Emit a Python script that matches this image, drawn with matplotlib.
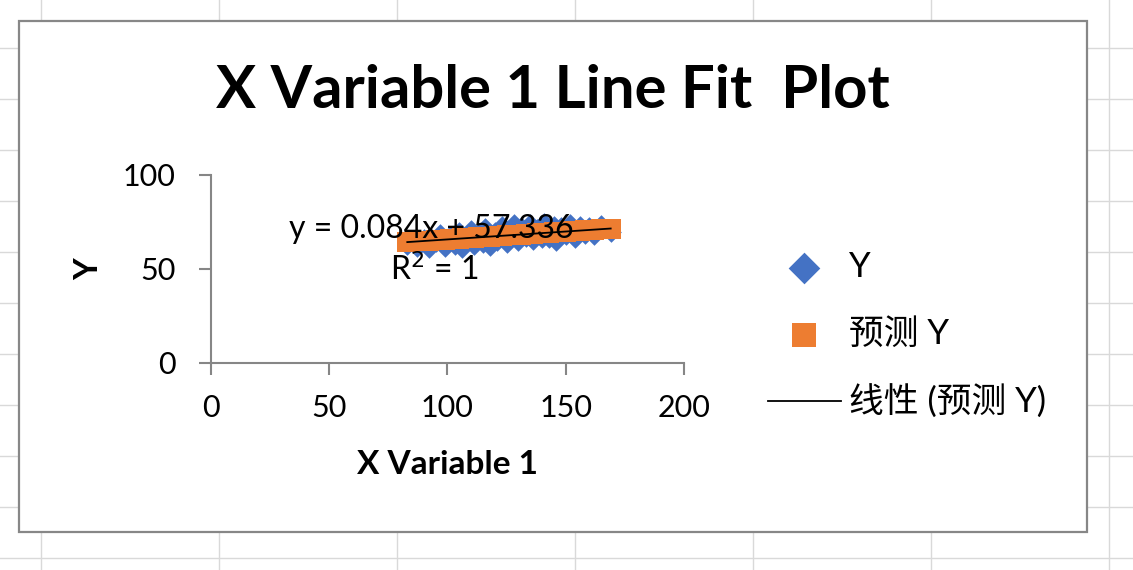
"""
X Variable 1 Line Fit Plot (Excel 回归输出图复刻)
"""
import matplotlib
matplotlib.use('Agg')
import matplotlib.pyplot as plt
from matplotlib.patches import Rectangle

plt.rcParams['font.family'] = ['Lato', 'Noto Sans CJK SC', 'DejaVu Sans']

# 数据
x_vals = [83, 87, 90, 92, 95, 97, 99, 101, 103, 105, 106, 108, 110, 111, 113,
          115, 116, 118, 120, 121, 123, 125, 126, 128, 130, 131, 133, 135, 136,
          138, 140, 141, 143, 145, 146, 148, 150, 152, 154, 156, 158, 160, 162,
          165, 169]
y_vals = [62.9, 61.8, 66.1, 61.1, 64.1, 68.6, 61.7, 67.8, 62.9, 69.7, 61.3, 65.0,
          70.5, 62.9, 68.7, 64.0, 71.7, 62.5, 69.6, 65.0, 72.7, 63.8, 70.8, 74.0,
          64.8, 72.4, 66.9, 74.0, 65.3, 71.5, 66.6, 74.6, 66.4, 73.1, 65.0, 72.4,
          67.9, 74.1, 66.7, 72.9, 68.5, 72.1, 68.0, 73.5, 69.8]
y_pred = [64.31, 64.64, 64.90, 65.06, 65.32, 65.48, 65.65, 65.82, 65.99, 66.16,
          66.24, 66.41, 66.58, 66.66, 66.83, 67.00, 67.08, 67.25, 67.42, 67.50,
          67.67, 67.84, 67.92, 68.09, 68.26, 68.34, 68.51, 68.68, 68.76, 68.93,
          69.10, 69.18, 69.35, 69.52, 69.60, 69.77, 69.94, 70.10, 70.27, 70.44,
          70.61, 70.78, 70.94, 71.20, 71.53]
x_ticks = [0, 50, 100, 150, 200]
y_ticks = [0, 50, 100]

W, H = 1133, 570
fig = plt.figure(figsize=(W / 100, H / 100), dpi=100)

# 背景: 表格网格线和图表边框
bg = fig.add_axes([0, 0, 1, 1], zorder=0)
bg.set_xlim(0, W)
bg.set_ylim(H, 0)
bg.axis('off')
grid_c = '#d9d9d9'
for gy in range(48, H, 51):
    bg.plot([0, W], [gy, gy], color=grid_c, lw=1, zorder=1)
for gx in range(41, W, 178):
    bg.plot([gx, gx], [0, H], color=grid_c, lw=1, zorder=1)
bg.add_patch(Rectangle((19, 21), 1068, 511, facecolor='white',
                       edgecolor='#878787', lw=1.6, zorder=3))

fig.text(553 / W, 1 - 91 / H, 'X Variable 1 Line Fit  Plot', fontsize=43,
         fontweight='bold', ha='center', va='center')

# 主图
ax = fig.add_axes([211 / W, 1 - 363 / H, 473 / W, 188 / H], zorder=2)
ax.patch.set_alpha(0)
ax.scatter(x_vals, y_vals, marker='D', s=110, color='#4472c4', linewidths=0,
           label='Y', zorder=2)
ax.scatter(x_vals, y_pred, marker='s', s=200, color='#ed7d31', linewidths=0,
           label='预测 Y', zorder=3)
ax.plot([x_vals[0], x_vals[-1]], [y_pred[0], y_pred[-1]], color='black',
        lw=1.3, label='线性 (预测 Y)', zorder=4)

ax.set_xlim(0, 200)
ax.set_ylim(0, 100)
ax.set_xticks(x_ticks)
ax.set_yticks(y_ticks)
for s in ['top', 'right']:
    ax.spines[s].set_visible(False)
for s in ['left', 'bottom']:
    ax.spines[s].set_color('#868686')
    ax.spines[s].set_linewidth(1.5)
ax.tick_params(direction='out', length=8.5, width=1.5, color='#868686',
               labelsize=22, pad=8)
ax.tick_params(axis='y', pad=17)
ax.tick_params(axis='x', pad=14)

ax.set_xlabel('X Variable 1', fontsize=24, fontweight='bold', labelpad=20)
ax.set_ylabel('Y', fontsize=24, fontweight='bold', labelpad=14)

ax.text(289, 229, 'y = 0.084x + 57.336', fontsize=23, va='center',
        transform=bg.transData, zorder=5)
ax.text(390, 270, 'R$^2$ = 1', fontsize=23, va='center',
        transform=bg.transData, zorder=5)

leg = ax.legend(loc='center left', bbox_to_anchor=(768 / W, 1 - 335 / H),
                bbox_transform=fig.transFigure, frameon=False, fontsize=25,
                handlelength=2.1, handletextpad=0.22, labelspacing=1.0,
                borderaxespad=0, borderpad=0)
leg.legend_handles[0].set_sizes([260])
leg.legend_handles[1].set_sizes([300])

fig.savefig('out.png', dpi=100)
